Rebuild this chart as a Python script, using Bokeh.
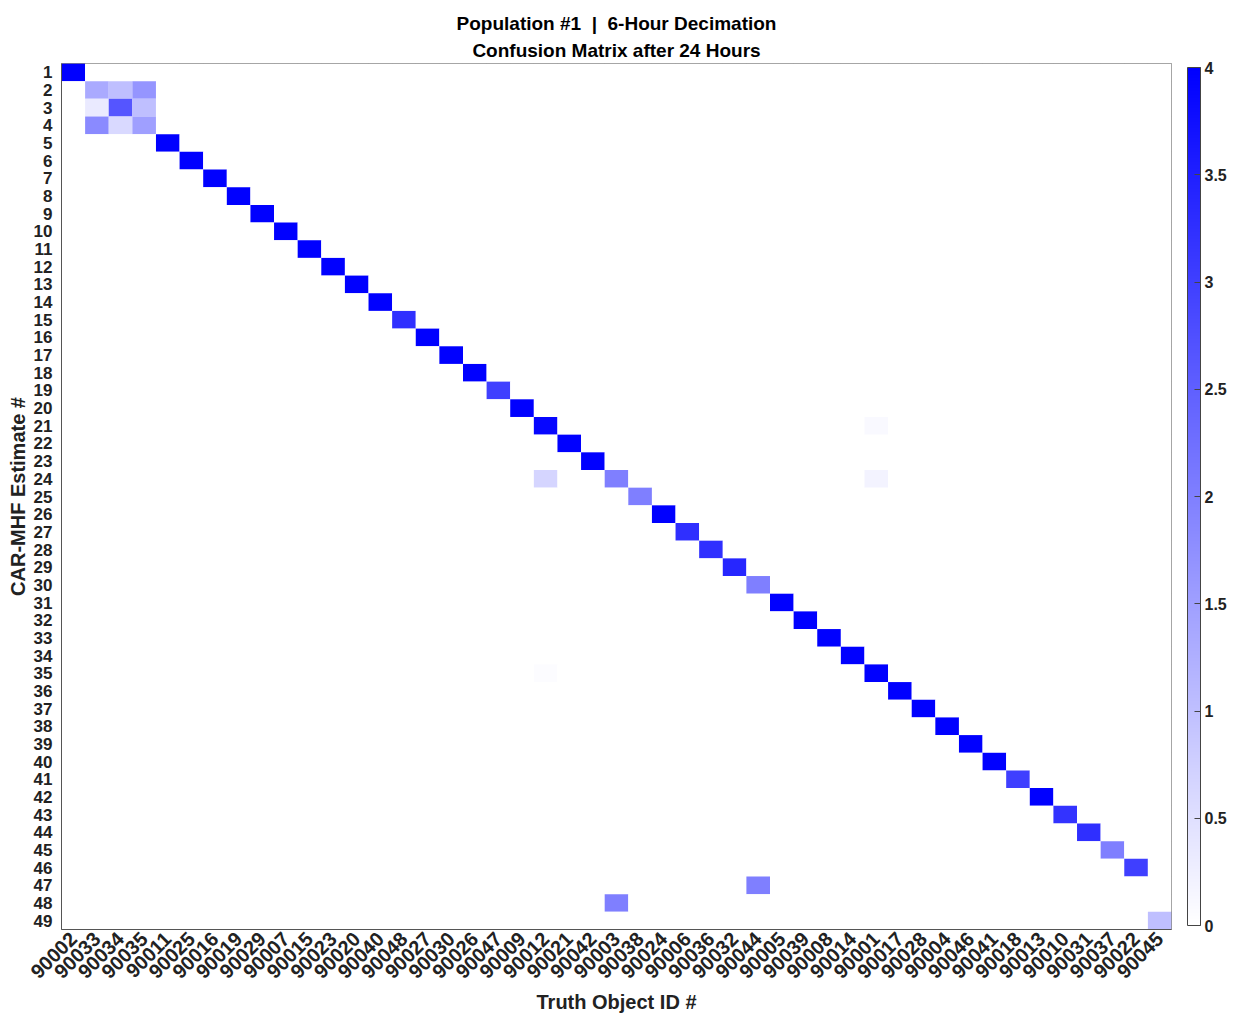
import numpy as np
from bokeh.plotting import figure
from bokeh.models import (ColumnDataSource, LinearColorMapper, ColorBar, FixedTicker,
                          Title, FactorRange)
from bokeh.embed import file_html
from bokeh.resources import INLINE

truth_ids = ["90002", "90033", "90034", "90035", "90011", "90025", "90016", "90019",
             "90029", "90007", "90015", "90023", "90020", "90040", "90048", "90027",
             "90030", "90026", "90047", "90009", "90012", "90021", "90042", "90003",
             "90038", "90024", "90006", "90036", "90032", "90044", "90005", "90039",
             "90008", "90014", "90001", "90017", "90028", "90004", "90046", "90041",
             "90018", "90013", "90010", "90031", "90037", "90022", "90045"]
estimates = [str(i) for i in range(1, 50)]

# non-zero cells: estimate row, truth column, count
cell_rows = ["1", "2", "2", "2", "3", "3", "3", "4", "4", "4",
             "5", "6", "7", "8", "9", "10", "11", "12", "13", "14",
             "15", "16", "17", "18", "19", "20", "21", "21", "22", "23",
             "24", "24", "24", "25", "26", "27", "28", "29", "30", "31",
             "32", "33", "34", "35", "35", "36", "37", "38", "39", "40",
             "41", "42", "43", "44", "45", "46", "47", "48", "49"]
cell_cols = ["90002", "90033", "90034", "90035", "90033", "90034", "90035", "90033", "90034", "90035",
             "90011", "90025", "90016", "90019", "90029", "90007", "90015", "90023", "90020", "90040",
             "90048", "90027", "90030", "90026", "90047", "90009", "90012", "90001", "90021", "90042",
             "90012", "90003", "90001", "90038", "90024", "90006", "90036", "90032", "90044", "90005",
             "90039", "90008", "90014", "90001", "90012", "90017", "90028", "90004", "90046", "90041",
             "90018", "90013", "90010", "90031", "90037", "90022", "90044", "90003", "90045"]
cell_vals = [4.0, 1.33, 1.0, 1.67, 0.33, 2.67, 1.0, 1.83, 0.6, 1.5,
             4.0, 4.0, 4.0, 4.0, 4.0, 4.0, 4.0, 4.0, 4.0, 4.0,
             3.25, 4.0, 4.0, 4.0, 3.0, 4.0, 3.9, 0.1, 4.0, 4.0,
             0.67, 2.0, 0.2, 2.0, 4.0, 3.25, 3.25, 3.4, 2.0, 4.0,
             4.0, 4.0, 4.0, 4.0, 0.05, 4.0, 4.0, 4.0, 4.0, 4.0,
             3.0, 4.0, 3.2, 3.25, 2.0, 3.0, 2.0, 2.0, 1.0]
cbar_ticks = [0, 0.5, 1, 1.5, 2, 2.5, 3, 3.5, 4]

# full matrix
mat = {}
for r, c, v in zip(cell_rows, cell_cols, cell_vals):
    mat[(r, c)] = v
xs, ys, vs = [], [], []
for r in estimates:
    for c in truth_ids:
        xs.append(c)
        ys.append(r)
        vs.append(mat.get((r, c), 0.0))
src = ColumnDataSource(dict(x=xs, y=ys, v=vs))

palette = ["#%02x%02xff" % (c, c) for c in range(255, -1, -1)]
mapper = LinearColorMapper(palette=palette, low=0, high=4)

FONT = "Liberation Sans"

p = figure(width=1233, height=1015, output_backend="svg", toolbar_location=None,
           x_range=FactorRange(*truth_ids), y_range=FactorRange(*reversed(estimates)),
           min_border_left=61, min_border_top=63, min_border_right=10, min_border_bottom=2)

p.rect(x="x", y="y", width=1, height=1, source=src,
       fill_color={"field": "v", "transform": mapper}, line_color=None)

p.title.visible = False
t2 = Title(text="Confusion Matrix after 24 Hours", align="center", text_font=FONT,
           text_font_size="19px", text_font_style="bold", text_color="black", standoff=5)
t1 = Title(text="Population #1\u00a0 |\u00a0 6-Hour Decimation", align="center", text_font=FONT,
           text_font_size="19px", text_font_style="bold", text_color="black", standoff=3)
p.add_layout(t2, "above")
p.add_layout(t1, "above")

p.xgrid.visible = False
p.ygrid.visible = False
p.outline_line_color = "#888888"
p.x_range.range_padding = 0
p.y_range.range_padding = 0

for ax in (p.xaxis, p.yaxis):
    ax.major_tick_line_color = None
    ax.minor_tick_line_color = None
    ax.axis_line_color = "#555555"
    ax.major_label_text_font = FONT
    ax.major_label_text_font_style = "bold"
    ax.major_label_text_color = "#222222"
    ax.axis_label_text_font = FONT
    ax.axis_label_text_font_style = "bold"
    ax.axis_label_text_font_size = "20px"
    ax.axis_label_text_color = "#222222"

p.xaxis.major_label_text_font_size = "20px"
p.yaxis.major_label_text_font_size = "17px"
p.xaxis.axis_label = "Truth Object ID #"
p.yaxis.axis_label = "CAR-MHF Estimate #"
p.xaxis.major_label_orientation = np.pi / 4
p.yaxis.major_label_standoff = 3
p.xaxis.major_label_standoff = 0
p.yaxis.axis_label_standoff = 2
p.xaxis.axis_label_standoff = 3

cb = ColorBar(color_mapper=mapper, ticker=FixedTicker(ticks=cbar_ticks), width=13,
              padding=4, margin=0, location=(12, 0), bar_line_color="#444444",
              major_tick_line_color="#444444", major_tick_in=6, major_tick_out=0,
              label_standoff=4, major_label_text_font=FONT,
              major_label_text_font_style="bold", major_label_text_font_size="16px",
              major_label_text_color="#222222")
p.add_layout(cb, "right")

open("out.html", "w").write(file_html(p, INLINE))
